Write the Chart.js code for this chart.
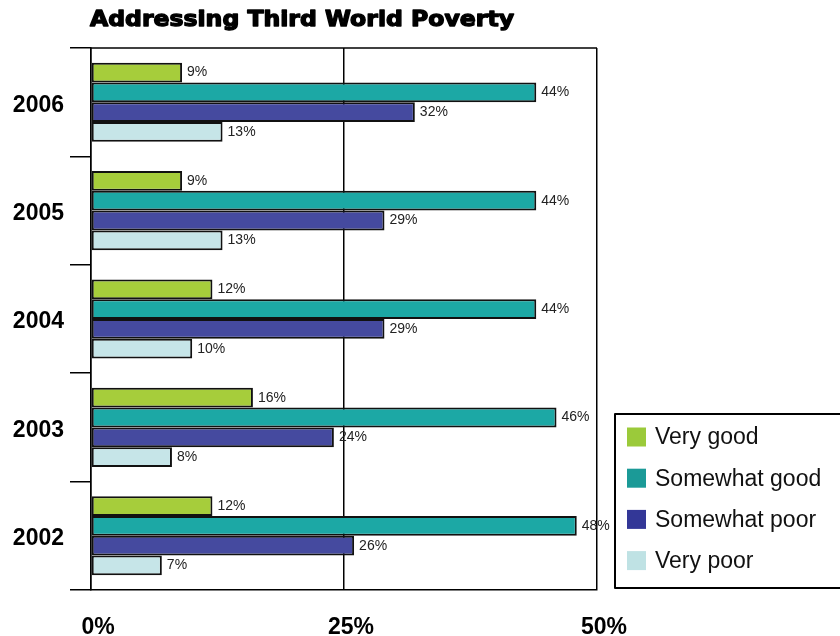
<!DOCTYPE html>
<html>
<head>
<meta charset="utf-8">
<title>Addressing Third World Poverty</title>
<script src="https://cdn.jsdelivr.net/npm/chart.js@4/dist/chart.umd.min.js"></script>
<style>
  html, body { margin: 0; padding: 0; background: #fff; }
  #wrap { width: 840px; height: 636px; }
</style>
</head>
<body>
<div id="wrap"><canvas id="povertyChart" width="840" height="636"></canvas></div>
<script>
// Dados do gráfico
const years = ['2006', '2005', '2004', '2003', '2002'];
const seriesNames = ['Very good', 'Somewhat good', 'Somewhat poor', 'Very poor'];
const veryGood = [9, 9, 12, 16, 12];
const somewhatGood = [44, 44, 44, 46, 48];
const somewhatPoor = [32, 29, 29, 24, 26];
const veryPoor = [13, 13, 10, 8, 7];
const xTicks = [0, 25, 50];

// Cores das barras e da legenda
const barColors = ['#a6cd3b', '#1ca8a5', '#454a9f', '#c6e5e8'];
const legendColors = ['#9bca3a', '#1b9a97', '#333797', '#bfe2e4'];
const font = '"Liberation Sans", Arial, sans-serif';

const seriesValues = [veryGood, somewhatGood, somewhatPoor, veryPoor];

// Título, contorno, rótulos de valor e legenda desenhados à mão
const extras = {
  id: 'extras',
  afterDraw(chart) {
    const c = chart.ctx;
    const a = chart.chartArea;
    c.save();

    // título (traço extra para ficar mais "black")
    c.font = 'bold 21px "DejaVu Sans"';
    const title = 'Addressing Third World Poverty';
    const w = c.measureText(title).width;
    c.fillStyle = '#000';
    c.strokeStyle = '#000';
    c.lineWidth = 1.3;
    c.lineJoin = 'round';
    c.textBaseline = 'alphabetic';
    c.translate(90, 26);
    c.scale(424 / w, 1);
    c.fillText(title, 0, 0);
    c.strokeText(title, 0, 0);
    c.setTransform(1, 0, 0, 1, 0, 0);

    // linha de cima do quadro
    c.lineWidth = 1.5;
    c.beginPath();
    c.moveTo(a.left, a.top);
    c.lineTo(a.right, a.top);
    c.stroke();

    // rótulos com os valores
    c.font = '14px ' + font;
    c.fillStyle = '#222';
    c.textBaseline = 'middle';
    c.textAlign = 'left';
    chart.data.datasets.forEach((ds, i) => {
      const meta = chart.getDatasetMeta(i);
      meta.data.forEach((bar, j) => {
        c.fillText(ds.data[j] + '%', bar.x + 5, bar.y);
      });
    });

    // legenda
    const lx = 615, ly = 414;
    c.lineWidth = 2;
    c.strokeRect(lx, ly, 240, 174);
    c.font = '23px ' + font;
    seriesNames.forEach((name, i) => {
      const cy = 437 + i * 41.2;
      c.fillStyle = legendColors[i];
      c.fillRect(627, cy - 9.5, 19, 19);
      c.fillStyle = '#111';
      c.fillText(name, 655, cy + 1);
    });
    c.restore();
  }
};

const ctx = document.getElementById('povertyChart').getContext('2d');
const chart = new Chart(ctx, {
  type: 'bar',
  data: {
    labels: years,
    datasets: seriesNames.map((name, i) => ({
      label: name,
      data: seriesValues[i],
      backgroundColor: barColors[i],
      borderColor: '#111',
      borderWidth: 2,
      borderSkipped: false,
      categoryPercentage: 0.73,
      barPercentage: 1
    }))
  },
  options: {
    indexAxis: 'y',
    responsive: false,
    animation: false,
    layout: { padding: { top: 48, right: 243, left: 0, bottom: 0 } },
    plugins: {
      legend: { display: false },
      title: { display: false },
      tooltip: { enabled: false }
    },
    scales: {
      x: {
        min: 0,
        max: 50,
        z: 1,
        afterBuildTicks(scale) {
          scale.ticks = xTicks.map(v => ({ value: v }));
        },
        afterFit(scale) { scale.height = 46; },
        ticks: {
          callback: v => v + '%',
          color: '#000',
          padding: 24,
          labelOffset: 7,
          font: { family: font, size: 23, weight: 'bold' }
        },
        grid: { color: '#000', lineWidth: 1.5, drawTicks: false },
        border: { color: '#000', width: 1.5 }
      },
      y: {
        afterFit(scale) { scale.width = 91; },
        ticks: {
          color: '#000',
          padding: 6,
          labelOffset: 3,
          font: { family: font, size: 23, weight: 'bold' }
        },
        grid: { offset: true, drawOnChartArea: false, tickLength: 21, color: '#000', lineWidth: 1.5 },
        border: { color: '#000', width: 1.5 }
      }
    }
  },
  plugins: [extras]
});
</script>
</body>
</html>
